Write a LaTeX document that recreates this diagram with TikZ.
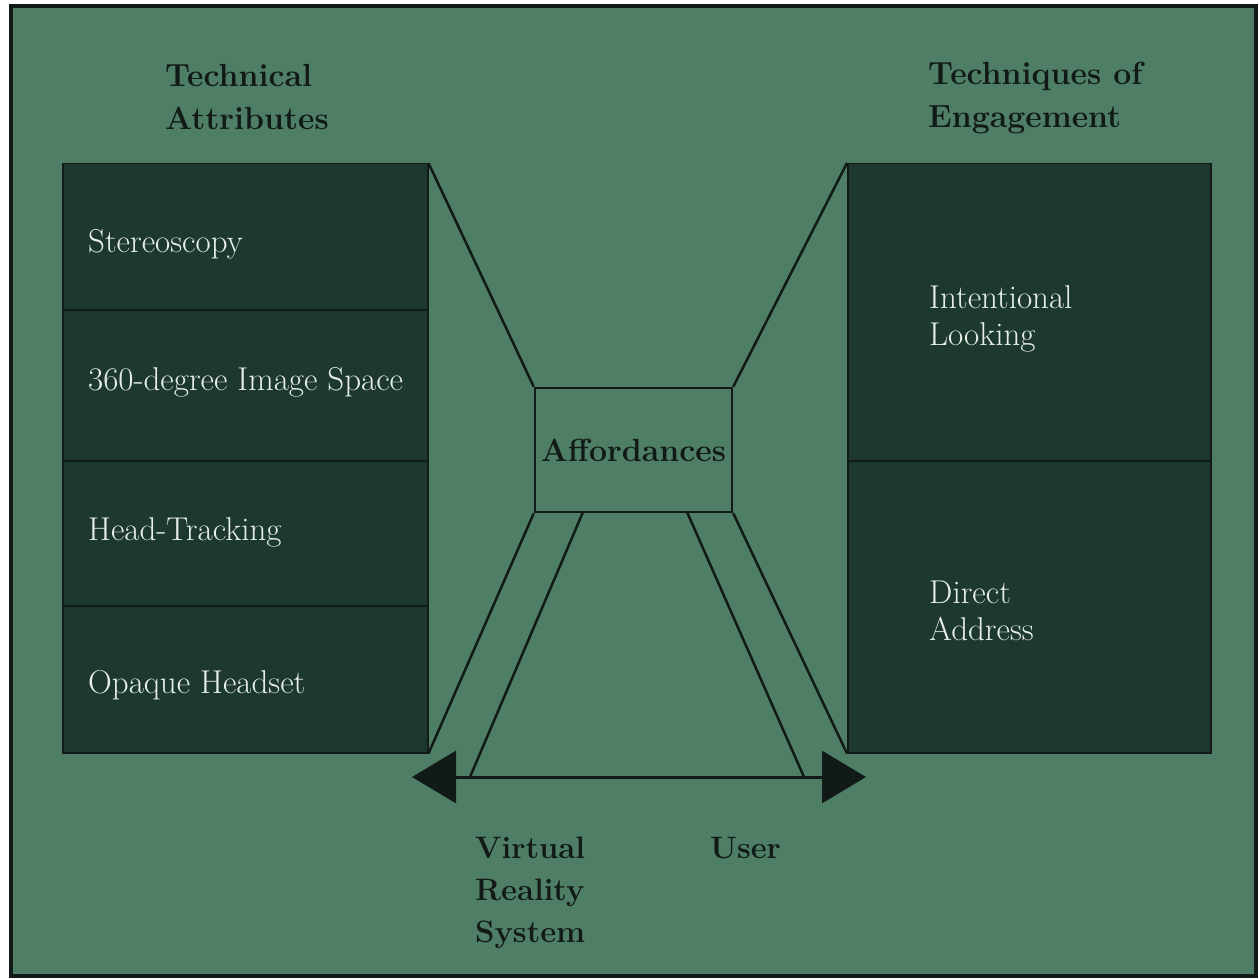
\documentclass[tikz,border=0pt]{standalone}
\usetikzlibrary{arrows.meta}
\definecolor{bggreen}{HTML}{4F7E66}
\definecolor{panel}{HTML}{1D382E}
\definecolor{ink}{HTML}{111A16}
\definecolor{paper}{HTML}{E6EEE6}
\begin{document}
\begin{tikzpicture}[x=1pt,y=-1pt,
  panelbox/.style={draw=ink, line width=1.5pt, fill=panel, anchor=north west,
                   inner sep=0pt},
  % multi-line nodes are anchored at the baseline of their last line
  item/.style={text=paper, anchor=base west, align=left, inner sep=0pt,
               font=\fontsize{33}{37}\selectfont},
  heading/.style={text=ink, anchor=base west, align=left, inner sep=0pt,
                  font=\fontsize{32}{43}\selectfont\bfseries},
  link/.style={draw=ink, line width=2.5pt},
  axis/.style={draw=ink, line width=3pt,
               >={Triangle[width=52pt,length=44pt]}, <->}
]
\useasboundingbox (0,0) rectangle (1259,979);
\fill[white] (0,0) rectangle (1259,979);
\draw[ink, line width=4pt, fill=bggreen] (11,6) rectangle (1256,976);

% headings
\node[heading] (lh) at (165,130) {Technical\\Attributes};
\node[heading] (rh) at (928,128) {Techniques of\\Engagement};

% left column: technical attributes
\node[panelbox, minimum width=365pt, minimum height=146pt] (s1) at (62,163) {};
\node[panelbox, minimum width=365pt, minimum height=151pt] (s2) at (62,309) {};
\node[panelbox, minimum width=365pt, minimum height=145pt] (s3) at (62,460) {};
\node[panelbox, minimum width=365pt, minimum height=147pt] (s4) at (62,605) {};
\node[item] (t1) at (88,252) {Stereoscopy};
\node[item] (t2) at (88,390) {360-degree Image Space};
\node[item] (t3) at (88,540) {Head-Tracking};
\node[item] (t4) at (88,693) {Opaque Headset};

% right column: techniques of engagement
\node[panelbox, minimum width=363pt, minimum height=297pt] (r1) at (847,163) {};
\node[panelbox, minimum width=363pt, minimum height=292pt] (r2) at (847,460) {};
\node[item] (e1) at (929,345) {Intentional\\Looking};
\node[item] (e2) at (929,640) {Direct\\Address};

% central box
\node[draw=ink, line width=2.5pt, minimum width=197pt, minimum height=124pt,
      text=ink, font=\fontsize{32}{40}\selectfont\bfseries] (aff) at (633.5,450) {Affordances};

% funnel lines
\draw[link] (s1.north east) -- (aff.north west);
\draw[link] (r1.north west) -- (aff.north east);
\draw[link] (aff.south west) -- (s4.south east);
\draw[link] (aff.south east) -- (r2.south west);

% axis between system and user
\coordinate (arrL) at (412,777);
\coordinate (arrR) at (866,777);
\coordinate (vrTop) at (583,512);
\coordinate (vrFoot) at (470,777);
\coordinate (usTop) at (687,512);
\coordinate (usFoot) at (804,777);
\draw[link] (vrTop) -- (vrFoot);
\draw[link] (usTop) -- (usFoot);
\draw[axis] (arrL) -- (arrR);

% end labels
\node[heading, font=\fontsize{31}{42}\selectfont\bfseries] (vr) at (475,942) {Virtual\\Reality\\System};
\node[heading, font=\fontsize{31}{42}\selectfont\bfseries] (us) at (710,858) {User};
\end{tikzpicture}
\end{document}
